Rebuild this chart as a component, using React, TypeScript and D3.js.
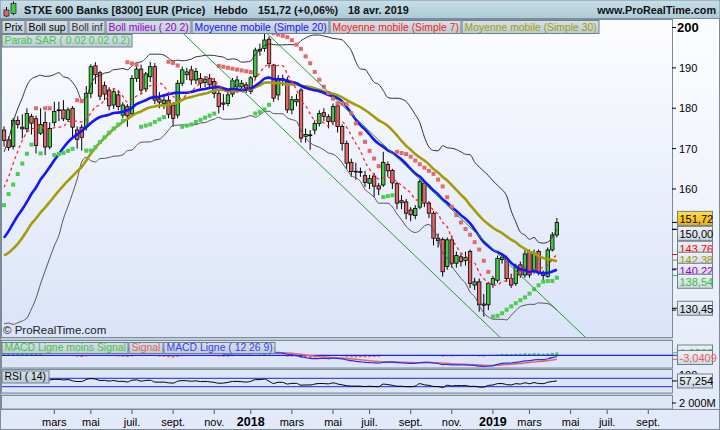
import { useEffect, useRef } from 'react';
import * as d3 from 'd3';

const W = 720;
const H = 430;
const FONT = '"Liberation Sans", Arial, sans-serif';

// weekly bars, first visible bar = week of 19 Dec 2016
const firstBar = new Date(2016, 11, 19, 12);
const barCount = 147; // visible bars + empty future weeks up to the right edge

// closes before the visible window (May–Dec 2016), only used to seed indicators
const warmupCloses = [
  148, 150, 146, 141, 130, 127, 124, 131, 132, 133, 134, 137, 138, 139, 143,
  142, 137, 139, 136, 141, 143, 145, 149, 146, 152, 154, 155, 156, 165, 169,
];

const opens = [
  174.6, 172.2, 170.5, 177.0, 175.3, 174.9, 178.0, 177.4, 173.8, 176.5, 170.4, 176.5, 179.6, 179.6, 177.2, 180.0,
  174.6, 175.3, 175.5, 183.7, 190.5, 188.8, 185.6, 184.5, 180.8, 183.3, 178.3, 180.4, 178.6, 187.4, 189.7, 184.8,
  187.8, 190.3, 182.3, 181.2, 182.0, 180.7, 178.3, 186.2, 188.3, 189.5, 187.0, 187.4, 186.4, 187.4, 186.6, 183.7,
  181.3, 181.2, 183.5, 185.3, 185.3, 185.8, 184.2, 187.8, 194.2, 194.8, 197.1, 190.7, 183.3, 187.2, 187.0, 179.6,
  181.6, 184.5, 173.0, 173.4, 174.6, 176.2, 178.9, 177.9, 176.7, 180.6, 175.5, 171.3, 166.6, 164.4, 164.3, 163.3,
  161.4, 163.2, 160.8, 161.0, 166.1, 164.6, 161.3, 157.1, 156.8, 154.8, 153.4, 155.5, 161.4, 156.5, 154.0, 147.8,
  147.5, 140.8, 147.4, 141.6, 143.2, 142.3, 144.5, 136.2, 137.0, 131.5, 131.3, 136.4, 137.4, 142.5, 142.8, 137.8,
  136.6, 141.2, 138.7, 144.5, 139.5, 144.5, 139.2, 138.3, 144.9, 148.6,
];
const highs = [
  175.5, 173.0, 177.6, 178.0, 178.5, 180.0, 178.6, 178.2, 180.0, 179.2, 176.5, 181.6, 181.6, 182.0, 180.2, 180.5,
  175.5, 176.0, 185.5, 190.9, 191.4, 189.3, 186.6, 185.2, 185.0, 184.5, 181.5, 181.0, 188.2, 190.5, 190.8, 189.0,
  191.5, 191.2, 184.0, 183.5, 183.0, 181.5, 187.0, 190.3, 190.0, 190.5, 190.0, 188.7, 188.0, 188.5, 187.5, 184.3,
  183.5, 184.2, 187.5, 188.0, 187.0, 186.5, 188.0, 195.0, 196.0, 198.6, 197.8, 191.0, 188.2, 188.3, 187.8, 183.0,
  183.5, 185.0, 175.0, 174.6, 177.0, 179.5, 180.0, 178.5, 181.2, 181.0, 176.0, 172.0, 167.5, 166.5, 165.3, 164.5,
  163.5, 164.0, 161.5, 169.2, 166.8, 165.0, 161.8, 158.5, 157.5, 155.5, 156.0, 162.5, 162.0, 157.0, 154.5, 149.0,
  148.0, 148.0, 148.5, 144.5, 144.0, 144.5, 145.0, 138.0, 137.8, 134.0, 137.0, 138.5, 143.5, 144.0, 143.5, 139.0,
  141.5, 142.0, 144.8, 145.0, 145.0, 145.0, 139.8, 145.5, 149.3, 152.8,
];
const lows = [
  170.5, 169.5, 169.8, 175.0, 172.5, 174.0, 173.5, 168.8, 173.4, 168.4, 169.8, 175.5, 176.8, 176.8, 176.6, 172.5,
  170.0, 169.5, 174.5, 182.5, 186.0, 182.0, 182.0, 179.5, 179.8, 179.5, 177.5, 175.4, 178.0, 186.5, 183.5, 184.0,
  186.5, 181.0, 180.0, 179.8, 177.5, 175.4, 177.5, 185.5, 187.0, 185.8, 186.0, 185.0, 185.2, 184.8, 182.5, 178.7,
  179.5, 180.5, 182.8, 184.5, 184.5, 183.8, 183.5, 187.0, 193.0, 194.0, 190.0, 181.6, 182.0, 185.5, 178.8, 178.5,
  180.5, 171.5, 171.5, 169.7, 173.5, 175.5, 176.8, 175.0, 175.8, 174.0, 169.5, 165.0, 163.0, 162.3, 163.0, 160.5,
  160.0, 158.0, 158.5, 160.5, 163.0, 160.0, 155.0, 155.0, 152.5, 152.0, 152.5, 155.0, 155.5, 152.8, 146.0, 145.5,
  138.3, 140.0, 140.5, 140.5, 140.8, 141.0, 135.5, 135.0, 129.6, 128.4, 130.0, 135.5, 136.8, 141.5, 137.0, 135.5,
  136.0, 138.0, 138.0, 138.0, 139.0, 138.6, 137.2, 138.0, 144.5, 148.0,
];
const closes = [
  172.0, 170.3, 177.0, 176.0, 174.9, 178.7, 176.3, 170.8, 176.0, 170.4, 175.0, 179.2, 179.4, 177.4, 179.6, 175.3,
  172.3, 172.8, 183.7, 190.3, 188.3, 183.0, 183.5, 180.6, 184.1, 180.4, 180.8, 178.1, 187.4, 189.7, 184.5, 188.5,
  190.3, 182.0, 181.5, 182.0, 178.5, 177.5, 186.2, 189.5, 189.0, 187.0, 189.1, 186.2, 187.2, 185.8, 183.7, 180.4,
  181.0, 183.3, 186.8, 187.0, 186.2, 185.0, 187.5, 194.4, 194.6, 196.9, 191.1, 182.5, 187.4, 187.0, 179.6, 182.1,
  182.2, 172.6, 173.5, 173.2, 176.2, 178.7, 178.0, 176.7, 180.4, 175.5, 171.3, 166.4, 164.3, 164.2, 164.1, 161.6,
  162.6, 160.7, 160.0, 166.6, 164.5, 161.5, 156.5, 156.6, 154.0, 153.6, 155.2, 161.8, 156.5, 154.0, 147.8, 147.2,
  139.5, 147.4, 141.6, 143.5, 142.0, 143.0, 136.6, 137.0, 131.3, 131.2, 136.6, 137.8, 142.8, 143.1, 137.8, 136.2,
  140.8, 138.7, 143.9, 138.7, 144.1, 139.2, 138.6, 144.9, 148.6, 151.72,
];

// hand-drawn trend channel: [bar index, price]
const channelUpper = [[57.4, 198.7], [128.5, 121.9]];
const channelLower = [[36, 202.0], [110, 121.7]];

const priceTicks = [130, 140, 150, 160, 170, 180, 190, 200];
const sideValues = [151.72, 150.0, 143.76, 142.38, 140.22, 138.54, 130.45];
const sideTexts = ['151,72', '150,00', '143,76', '142,38', '140,22', '138,54', '130,45'];
const macdSideValues = [1.9532, -3.0409];
const macdSideTexts = ['1,9532', '-3,0409'];
const rsiSideValue = 57.254;
const rsiSideText = '57,254';
const volumeText = '2 000M';
const monthsFr = ['janv.', 'févr.', 'mars', 'avr.', 'mai', 'juin', 'juil.', 'août', 'sept.', 'oct.', 'nov.', 'déc.'];

const sideStyles = [
  { color: '#000', bg: 'url(#yelBg)' },
  { color: '#000', bg: 'url(#valBg)' },
  { color: '#ff0000', bg: 'url(#valBg)' },
  { color: '#999900', bg: 'url(#valBg)' },
  { color: '#9900cc', bg: 'url(#valBg)' },
  { color: '#33c433', bg: 'url(#valBg)' },
  { color: '#000', bg: 'url(#valBg)' },
];

function sma(a: number[], n: number) {
  return a.map((_, i) => (i < n - 1 ? NaN : (d3.mean(a.slice(i - n + 1, i + 1)) as number)));
}
function stdev(a: number[], n: number) {
  return a.map((_, i) => {
    if (i < n - 1) return NaN;
    const s = a.slice(i - n + 1, i + 1);
    const m = d3.mean(s) as number;
    return Math.sqrt(d3.mean(s, (v) => (v - m) * (v - m)) as number);
  });
}
function ema(a: number[], n: number) {
  const k = 2 / (n + 1);
  let e = a[0];
  return a.map((v, i) => (e = i === 0 ? v : v * k + e * (1 - k)));
}
function rsi(a: number[], n: number) {
  const out = a.map(() => NaN);
  let g = 0, l = 0;
  for (let i = 1; i <= n; i++) {
    const d = a[i] - a[i - 1];
    g += Math.max(d, 0);
    l += Math.max(-d, 0);
  }
  g /= n; l /= n;
  out[n] = 100 - 100 / (1 + g / l);
  for (let i = n + 1; i < a.length; i++) {
    const d = a[i] - a[i - 1];
    g = (g * (n - 1) + Math.max(d, 0)) / n;
    l = (l * (n - 1) + Math.max(-d, 0)) / n;
    out[i] = 100 - 100 / (1 + g / l);
  }
  return out;
}
function parabolicSar(hi: number[], lo: number[]) {
  const out: { v: number; up: boolean }[] = [];
  let up = true, sar = 156, ep = hi[0], af = 0.14;
  out.push({ v: sar, up });
  for (let i = 1; i < hi.length; i++) {
    let s = sar + af * (ep - sar);
    if (up) {
      s = Math.min(s, lo[i - 1], lo[Math.max(i - 2, 0)]);
      if (lo[i] < s) { up = false; s = ep; ep = lo[i]; af = 0.02; }
      else if (hi[i] > ep) { ep = hi[i]; af = Math.min(af + 0.02, 0.2); }
    } else {
      s = Math.max(s, hi[i - 1], hi[Math.max(i - 2, 0)]);
      if (hi[i] > s) { up = true; s = ep; ep = hi[i]; af = 0.02; }
      else if (lo[i] < ep) { ep = lo[i]; af = Math.min(af + 0.02, 0.2); }
    }
    sar = s;
    out.push({ v: s, up });
  }
  return out;
}

export default function App() {
  const ref = useRef<SVGSVGElement>(null);

  useEffect(() => {
    if (!ref.current) return;
    const svg = d3.select(ref.current);
    svg.selectAll('*').remove();

    const off = warmupCloses.length;
    const all = warmupCloses.concat(closes);
    const vis = (a: number[]) => a.slice(off);
    const ma7 = vis(sma(all, 7));
    const ma20 = vis(sma(all, 20));
    const ma30 = vis(sma(all, 30));
    const sd20 = vis(stdev(all, 20));
    const bUp = ma20.map((m, i) => m + 2 * sd20[i]);
    const bDn = ma20.map((m, i) => m - 2 * sd20[i]);
    const e12 = ema(all, 12), e26 = ema(all, 26);
    const macdAll = e12.map((v, i) => v - e26[i]);
    const sigAll = ema(macdAll, 9);
    const macd = vis(macdAll), sig = vis(sigAll);
    const hist = macd.map((v, i) => v - sig[i]);
    const rsi14 = vis(rsi(all, 14));
    const sar = parabolicSar(highs, lows);

    const x = d3.scaleLinear().domain([0, barCount - 1]).range([4.04, 4.04 + (barCount - 1) * 4.569]);
    const y = d3.scaleLinear().domain([130, 200]).range([27.5 + 70 * 4.037, 27.5]);
    const yM = d3.scaleLinear().domain([-10, 10]).range([355.3 + 13.3, 355.3 - 13.3]);
    const yR = d3.scaleLinear().domain([30, 70]).range([386.7, 378.3]);

    // ---- defs
    const defs = svg.append('defs');
    const grad = (id: string, c0: string, c1: string) => {
      const g = defs.append('linearGradient').attr('id', id).attr('x1', 0).attr('y1', 0).attr('x2', 0).attr('y2', 1);
      g.append('stop').attr('offset', '0%').attr('stop-color', c0);
      g.append('stop').attr('offset', '100%').attr('stop-color', c1);
    };
    grad('hdrBg', '#c8dfe9', '#adcad8');
    grad('plotBg', '#fdfdff', '#dae3f8');
    grad('axisBg', '#fcfdff', '#e3e9f8');
    grad('legBg', '#d6e1e7', '#bccbd4');
    grad('valBg', '#eef2f8', '#cbd6e2');
    grad('yelBg', '#ffdf50', '#efb000');
    const clip = (id: string, x0: number, y0: number, w: number, h: number) =>
      defs.append('clipPath').attr('id', id).append('rect').attr('x', x0).attr('y', y0).attr('width', w).attr('height', h);
    clip('cMain', 2, 19.5, 670, 317.5);
    clip('cMacd', 2, 341, 670, 27);
    clip('cRsi', 2, 370, 670, 23);

    // ---- frame
    svg.append('rect').attr('width', W).attr('height', H).attr('fill', '#c2cdd7');
    svg.append('rect').attr('x', 0).attr('y', 0).attr('width', W).attr('height', 18.5).attr('fill', 'url(#hdrBg)')
      .attr('stroke', '#7d8e9a');
    svg.append('rect').attr('x', 672.5).attr('y', 19).attr('width', 46.5).attr('height', 390.5).attr('fill', 'url(#axisBg)');
    const border = '#7b8b98';
    svg.append('rect').attr('x', 1.5).attr('y', 19.5).attr('width', 671).attr('height', 318).attr('fill', 'url(#plotBg)').attr('stroke', border);
    svg.append('rect').attr('x', 1.5).attr('y', 340.5).attr('width', 671).attr('height', 27.5).attr('fill', '#dde6f7').attr('stroke', border);
    svg.append('rect').attr('x', 1.5).attr('y', 369.5).attr('width', 671).attr('height', 23.5).attr('fill', '#dde6f7').attr('stroke', border);
    svg.append('rect').attr('x', 1.5).attr('y', 395.5).attr('width', 671).attr('height', 13.5).attr('fill', '#dde6f7').attr('stroke', border);
    svg.append('rect').attr('x', 0.5).attr('y', 409.5).attr('width', 719).attr('height', 20).attr('fill', '#e3e9f9').attr('stroke', border);
    svg.append('line').attr('x1', 719.5).attr('x2', 719.5).attr('y1', 18).attr('y2', 410).attr('stroke', border);
    svg.append('line').attr('x1', 0.5).attr('x2', 0.5).attr('y1', 18).attr('y2', 410).attr('stroke', border);

    // ---- header
    const hdr = svg.append('g').attr('font-family', FONT).attr('font-weight', 'bold').attr('font-size', 10.8).attr('fill', '#111');
    hdr.append('line').attr('x1', 6.5).attr('x2', 6.5).attr('y1', 7).attr('y2', 17).attr('stroke', '#000');
    hdr.append('rect').attr('x', 4).attr('y', 10).attr('width', 5).attr('height', 6).attr('fill', '#e26868').attr('stroke', '#000').attr('stroke-width', 0.6);
    hdr.append('line').attr('x1', 13.5).attr('x2', 13.5).attr('y1', 1.5).attr('y2', 15).attr('stroke', '#000');
    hdr.append('rect').attr('x', 11).attr('y', 3.5).attr('width', 5).attr('height', 10).attr('fill', '#45c845').attr('stroke', '#000').attr('stroke-width', 0.6);
    hdr.append('text').attr('x', 24).attr('y', 14).text('STXE 600 Banks [8300] EUR (Price)');
    hdr.append('text').attr('x', 214).attr('y', 14).text('Hebdo');
    hdr.append('text').attr('x', 258).attr('y', 14).text('151,72 (+0,06%)');
    hdr.append('text').attr('x', 348).attr('y', 14).text('18 avr. 2019');
    hdr.append('text').attr('x', 716).attr('y', 14).attr('text-anchor', 'end').text('www.ProRealTime.com');

    // ---- main panel
    const main = svg.append('g').attr('clip-path', 'url(#cMain)');
    const idx = d3.range(closes.length);
    const bw = 3.4;
    const candles = main.append('g');
    idx.forEach((i) => {
      const cx = x(i);
      const o = opens[i], c = closes[i];
      candles.append('line').attr('x1', cx).attr('x2', cx).attr('y1', y(highs[i])).attr('y2', y(lows[i]))
        .attr('stroke', '#000').attr('stroke-width', 1);
      const top = y(Math.max(o, c)), bot = y(Math.min(o, c));
      candles.append('rect').attr('x', cx - bw / 2).attr('y', top).attr('width', bw).attr('height', Math.max(bot - top, 0.8))
        .attr('fill', c >= o ? '#45c845' : '#e26868').attr('stroke', '#000').attr('stroke-width', 0.8);
    });

    const line = (yy: (v: number) => number) =>
      d3.line<number>().defined((v) => !isNaN(v)).x((_, i) => x(i)).y((v) => yy(v)).curve(d3.curveMonotoneX);
    const drawLine = (g: any, data: number[], yy: any, color: string, w: number, dash?: string) =>
      g.append('path').attr('d', line(yy)(data)).attr('fill', 'none').attr('stroke', color).attr('stroke-width', w)
        .attr('stroke-dasharray', dash || null).attr('stroke-linejoin', 'round');

    drawLine(main, bUp, y, '#333', 1);
    drawLine(main, bDn, y, '#555', 1);
    drawLine(main, ma30, y, '#a39d05', 2.6);
    drawLine(main, ma20, y, '#9900cc', 1);
    drawLine(main, ma20, y, '#1414ff', 2.6);
    drawLine(main, ma7, y, '#ff2a2a', 1.3, '3,3');

    main.append('g').selectAll('rect').data(sar).join('rect')
      .attr('x', (_, i) => x(i) - 2).attr('y', (d) => y(d.v) - 2).attr('width', 4).attr('height', 4)
      .attr('fill', (d) => (d.up ? '#4ccc4c' : '#e46a6a'));

    [channelUpper, channelLower].forEach((pts) => {
      main.append('line').attr('x1', x(pts[0][0])).attr('y1', y(pts[0][1])).attr('x2', x(pts[1][0])).attr('y2', y(pts[1][1]))
        .attr('stroke', '#2f9a2f').attr('stroke-width', 1);
    });

    // legends
    const legendRow = (items: [string, string][], x0: number, y0: number, h: number) => {
      let xx = x0;
      const g = svg.append('g').attr('font-family', FONT).attr('font-size', 10.4);
      items.forEach(([label, color]) => {
        const r = g.append('rect').attr('x', xx + 0.5).attr('y', y0 + 0.5).attr('height', h).attr('fill', 'url(#legBg)')
          .attr('stroke', '#6f808d');
        const t = g.append('text').attr('x', xx + 3).attr('y', y0 + h - 2.5).attr('fill', color).text(label);
        const w = Math.round((t.node() as SVGTextElement).getComputedTextLength() + 5);
        r.attr('width', w);
        xx += w + 1;
      });
    };
    legendRow([
      ['Prix', '#000'], ['Boll sup', '#000'], ['Boll inf', '#333'], ['Boll milieu ( 20 2)', '#9900cc'],
      ['Moyenne mobile (Simple 20)', '#1414ff'], ['Moyenne mobile (Simple 7)', '#ff1a1a'], ['Moyenne mobile (Simple 30)', '#a39d05'],
    ], 1.5, 20, 13);
    legendRow([['Parab SAR ( 0.02 0.02 0.2)', '#44c444']], 1.5, 34, 12.5);

    svg.append('text').attr('x', 3).attr('y', 334).attr('font-family', FONT).attr('font-size', 11.5).attr('fill', '#222')
      .text('© ProRealTime.com');

    // ---- right price axis
    const ax = svg.append('g').attr('font-family', FONT).attr('font-size', 11);

    // value boxes, grouped when they collide
    const ys = sideValues.map((v) => y(v));
    const clusters: number[][] = [];
    ys.forEach((yy, i) => {
      const last = clusters[clusters.length - 1];
      if (last && yy - ys[last[last.length - 1]] < 14) last.push(i);
      else clusters.push([i]);
    });
    const centers: number[] = [];
    clusters.forEach((cl) => {
      const m = d3.mean(cl, (i) => ys[i]) as number;
      const gap = cl.length > 2 ? 11 : 15;
      cl.forEach((i, k) => (centers[i] = m + (k - (cl.length - 1) / 2) * gap));
    });

    priceTicks.forEach((t) => {
      ax.append('line').attr('x1', 672).attr('x2', 676).attr('y1', y(t)).attr('y2', y(t)).attr('stroke', '#000');
      // tick labels sitting under a value box are hidden, as on the original
      if (centers.some((c) => Math.abs(c - y(t)) < 10)) return;
      ax.append('text').attr('x', t === 200 ? 677 : 679).attr('y', y(t) + 4).attr('font-weight', t === 200 ? 'bold' : null)
        .attr('font-size', t === 200 ? 13 : 11).text(t);
    });

    const valueBox = (g: any, cy: number, text: string, color: string, bg: string) => {
      g.append('rect').attr('x', 677.5).attr('y', cy - 7).attr('width', 35).attr('height', 14).attr('fill', bg)
        .attr('stroke', '#6f808d');
      g.append('text').attr('x', 679.5).attr('y', cy + 4.5).attr('fill', color).text(text);
    };
    sideValues.forEach((v, i) => {
      ax.append('line').attr('x1', 672).attr('x2', 678).attr('y1', ys[i]).attr('y2', ys[i])
        .attr('stroke', sideStyles[i].color);
    });
    sideValues.forEach((_, i) => valueBox(ax, centers[i], sideTexts[i], sideStyles[i].color, sideStyles[i].bg));

    // ---- MACD panel
    const mp = svg.append('g').attr('clip-path', 'url(#cMacd)');
    mp.append('g').selectAll('rect').data(hist).join('rect')
      .attr('x', (_, i) => x(i) - 1.5).attr('width', 3)
      .attr('y', (d) => (d >= 0 ? yM(d) : yM(0)))
      .attr('height', (d) => Math.abs(yM(d) - yM(0)))
      .attr('fill', (d) => (d >= 0 ? '#44cc44' : '#e46a6a'));
    mp.append('line').attr('x1', 2).attr('x2', 672).attr('y1', yM(0)).attr('y2', yM(0)).attr('stroke', '#2020ee').attr('stroke-width', 1.2);
    drawLine(mp, sig, yM, '#e46a6a', 1.6);
    drawLine(mp, macd, yM, '#2b2bff', 1.2);
    legendRow([['MACD Ligne moins Signal', '#44c444'], ['Signal', '#e06060'], ['MACD Ligne ( 12 26 9)', '#3a3aff']], 1.5, 342, 11);

    ax.append('line').attr('x1', 672).attr('x2', 678).attr('y1', yM(macdSideValues[0])).attr('y2', yM(macdSideValues[0])).attr('stroke', '#44cc44');
    ax.append('line').attr('x1', 672).attr('x2', 678).attr('y1', yM(0)).attr('y2', yM(0)).attr('stroke', '#2020ee');
    ax.append('line').attr('x1', 672).attr('x2', 678).attr('y1', yM(macdSideValues[1])).attr('y2', yM(macdSideValues[1])).attr('stroke', '#e06060');
    const mMid = (yM(macdSideValues[0]) + yM(macdSideValues[1])) / 2;
    valueBox(ax, mMid - 4, macdSideTexts[0], '#44c444', 'url(#valBg)');
    valueBox(ax, mMid + 1.5, macdSideTexts[1], '#e06060', 'url(#valBg)');

    // ---- RSI panel
    const rp = svg.append('g').attr('clip-path', 'url(#cRsi)');
    [70, 30].forEach((lv) => rp.append('line').attr('x1', 2).attr('x2', 672).attr('y1', yR(lv)).attr('y2', yR(lv)).attr('stroke', '#2020ee'));
    drawLine(rp, rsi14, yR, '#000', 1);
    legendRow([['RSI ( 14)', '#000']], 1.5, 370.5, 12);
    ax.append('text').attr('x', 679).attr('y', 378.5).text('100');
    ax.append('line').attr('x1', 672).attr('x2', 678).attr('y1', yR(rsiSideValue)).attr('y2', yR(rsiSideValue)).attr('stroke', '#000');
    valueBox(ax, yR(rsiSideValue), rsiSideText, '#000', 'url(#valBg)');

    // ---- volume panel (empty)
    ax.append('line').attr('x1', 672).attr('x2', 676).attr('y1', 403).attr('y2', 403).attr('stroke', '#000');
    ax.append('text').attr('x', 679).attr('y', 407).text(volumeText);

    // ---- time axis
    const xa = svg.append('g').attr('font-family', FONT).attr('font-size', 11).attr('fill', '#000');
    d3.range(1, barCount).forEach((j) => {
      const d = d3.timeDay.offset(firstBar, 7 * j);
      const p = d3.timeDay.offset(firstBar, 7 * (j - 1));
      const m = d.getMonth();
      if (m === p.getMonth() || m % 2 !== 0) return;
      const xx = x(j);
      if (xx < 20 || xx > 668) return;
      xa.append('line').attr('x1', xx).attr('x2', xx).attr('y1', 410).attr('y2', 414).attr('stroke', '#555');
      const t = xa.append('text').attr('x', xx).attr('y', 425.5).attr('text-anchor', 'middle');
      if (m === 0) t.attr('font-weight', 'bold').attr('font-size', 12.5).text(d.getFullYear());
      else t.text(monthsFr[m]);
    });
  }, []);

  return (
    <svg
      ref={ref}
      width={W}
      height={H}
      style={{ position: 'absolute', left: 0, top: 0, display: 'block' }}
    />
  );
}
